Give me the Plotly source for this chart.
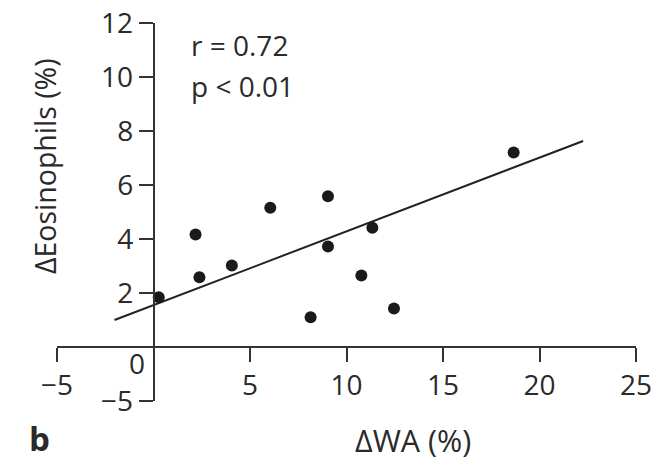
import plotly.graph_objects as go

# Data
wa_change = [0.27, 2.18, 2.38, 4.06, 6.05, 8.14, 9.04, 9.04, 10.77, 11.34, 12.46, 18.66]
eos_change = [1.84, 4.17, 2.58, 3.02, 5.16, 1.10, 5.58, 3.72, 2.65, 4.42, 1.43, 7.20]

fit_x = [-2.02, 22.26]
fit_y = [1.00, 7.63]

x_tickvals = [-5, 5, 10, 15, 20, 25]
x_ticktext = ["\u22125", "5", "10", "15", "20", "25"]
y_tickvals = [-2, 2, 4, 6, 8, 10, 12]
y_ticktext = ["\u22125", "2", "4", "6", "8", "10", "12"]

FONT = "Open Sans"
TXT = "#2a2a2a"
AX = "#333333"

fig = go.Figure()
fig.add_trace(go.Scatter(x=fit_x, y=fit_y, mode="lines",
                         line=dict(color="#222222", width=2), hoverinfo="skip"))
fig.add_trace(go.Scatter(x=wa_change, y=eos_change, mode="markers",
                         marker=dict(color="#1a1a1a", size=12)))

L, R, T, B = 57.3, 23, 22.7, 61.3
W, H = 659, 462
pw = W - L - R
ph = H - T - B

def px(xp):
    return (xp - L) / pw

def py(yp):
    return (H - B - yp) / ph

fig.update_layout(
    width=W, height=H,
    margin=dict(l=L, r=R, t=T, b=B, pad=0, autoexpand=False),
    paper_bgcolor="white", plot_bgcolor="white",
    showlegend=False,
    font=dict(family=FONT, color=TXT, size=28),
    xaxis=dict(range=[-5, 25], anchor="free", position=2/14, automargin=False,
               showgrid=False, zeroline=False, showline=True,
               linecolor=AX, linewidth=1.5,
               ticks="outside", ticklen=14, tickwidth=1.5, tickcolor=AX,
               tickvals=x_tickvals, ticktext=x_ticktext,
               tickfont=dict(family=FONT, size=28, color=TXT)),
    yaxis=dict(range=[-2, 12], anchor="free", position=1/6, automargin=False,
               showgrid=False, zeroline=False, showline=True,
               linecolor=AX, linewidth=1.5,
               ticks="outside", ticklen=14, tickwidth=1.5, tickcolor=AX,
               tickvals=y_tickvals, ticktext=y_ticktext,
               tickfont=dict(family=FONT, size=28, color=TXT)),
)

ann = [
    dict(text="r = 0.72", x=px(190), y=py(45), xanchor="left", yanchor="middle"),
    dict(text="p < 0.01", x=px(190), y=py(86), xanchor="left", yanchor="middle"),
    dict(text="0", x=px(137), y=py(363), xanchor="center", yanchor="middle"),
    dict(text="\u0394WA (%)", x=px(413), y=py(462), xanchor="center", yanchor="bottom", size=30.5),
    dict(text="<b>b</b>", x=px(40), y=py(462), xanchor="center", yanchor="bottom", size=33),
    dict(text="\u0394Eosinophils (%)", x=px(46), y=py(166), xanchor="center",
         yanchor="middle", textangle=-90, size=28.5),
]
for a in ann:
    size = a.pop("size", 28)
    fig.add_annotation(xref="paper", yref="paper", showarrow=False, borderpad=0,
                       font=dict(family=FONT, size=size, color=TXT), **a)

fig.write_html("out.html")
